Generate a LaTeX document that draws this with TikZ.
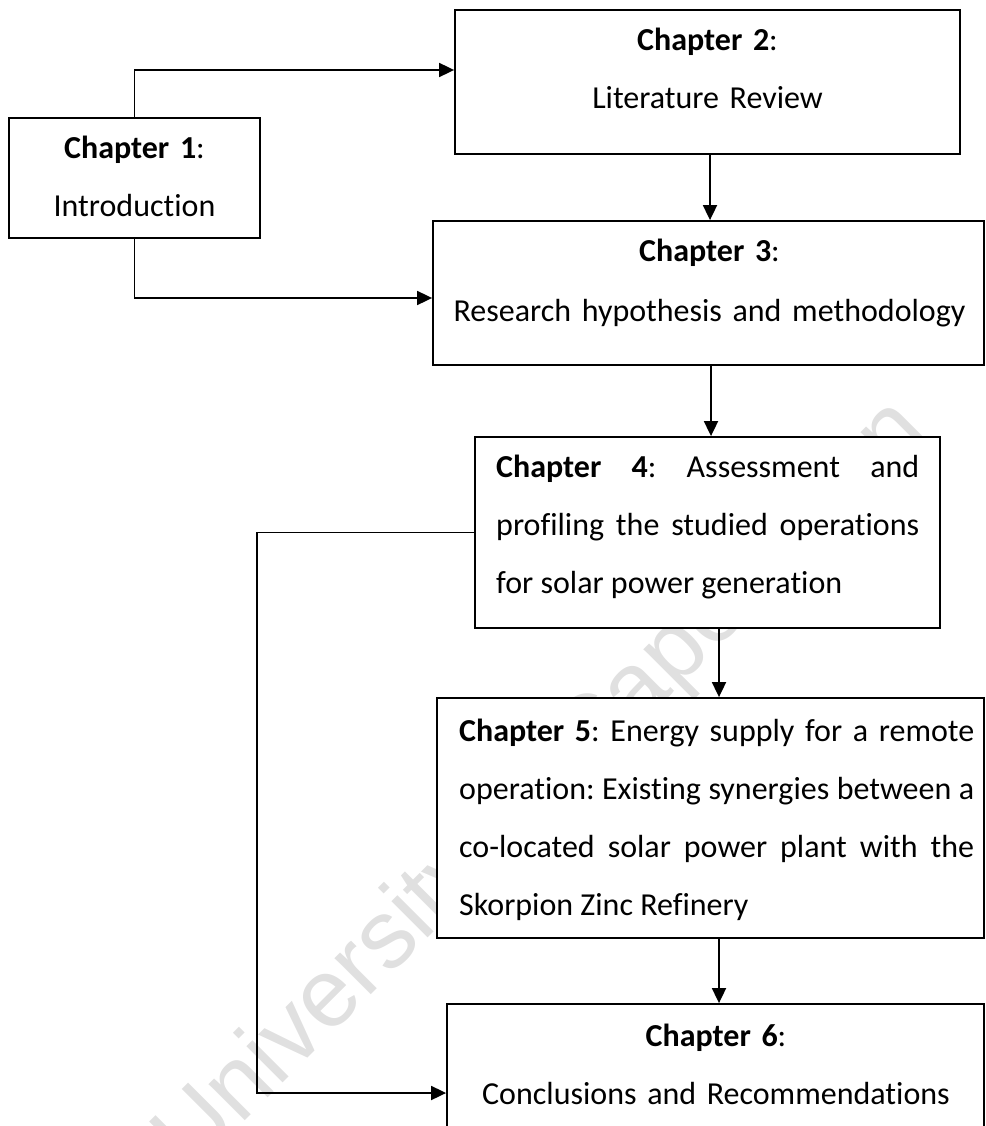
\documentclass[tikz,border=0pt]{standalone}
\usepackage{fontspec}
\setmainfont{Carlito}[Ligatures=NoCommon]
\newfontfamily\wmfont{Liberation Sans}
\usetikzlibrary{arrows.meta}
\frenchspacing

\tikzset{
  chbox/.style={draw, fill=white, line width=1.8pt, inner sep=0pt},
  chtext/.style={inner sep=0pt, font=\fontsize{32}{58}\selectfont},
  arr/.style={line width=1.8pt, -{Triangle[length=15pt,width=14pt]}},
  wmark/.style={inner sep=0pt, text=black!12,
    font=\wmfont\fontsize{97}{97}\selectfont}
}

\begin{document}
\begin{tikzpicture}[x=1pt,y=-1pt]
\useasboundingbox (0,0) rectangle (985,1126);
\clip (0,0) rectangle (985,1126);

% faint background stamp, covered by the boxes
\node[wmark, rotate=45, anchor=base west] (stamp) at (191,1175) {University of Cape Town};

% chapter boxes
\node[chbox, minimum width=251pt, minimum height=120pt] (b1) at (134.5,178) {};
\node[chbox, minimum width=505pt, minimum height=144pt] (b2) at (707.5,82) {};
\node[chbox, minimum width=551pt, minimum height=144pt] (b3) at (708.5,293) {};
\node[chbox, minimum width=465pt, minimum height=191pt] (b4) at (707.5,532.5) {};
\node[chbox, minimum width=547pt, minimum height=240pt] (b5) at (710.5,818) {};
\node[chbox, minimum width=537pt, minimum height=156pt] (b6) at (715.5,1082) {};

% box texts
\node[chtext, anchor=base, text width=250pt, align=center] (t1) at (134.5,159)
  {\textbf{Chapter 1}:\\Introduction};
\node[chtext, anchor=base, text width=500pt, align=center] (t2) at (707.5,51)
  {\textbf{Chapter 2}:\\Literature Review};
\node[chtext, anchor=base, text width=545pt, align=center] (t3) at (709.5,261)
  {\textbf{Chapter 3}:\\[2pt]Research hypothesis and methodology};
\node[chtext, anchor=base west, text width=423pt, align=justify] (t4) at (496,477)
  {\tolerance=10000\hbadness=10000
   \textbf{Chapter 4}: Assessment and\linebreak
   profiling the studied operations\linebreak
   for solar power generation};
\node[chtext, anchor=base west, text width=515pt, align=justify] (t5) at (459,741)
  {\tolerance=10000\hbadness=10000
   \textbf{Chapter 5}: Energy supply for a remote\linebreak
   operation: Existing synergies between a\linebreak
   co-located solar power plant with the\linebreak
   Skorpion Zinc Refinery};
\node[chtext, anchor=base, text width=530pt, align=center] (t6) at (716,1046)
  {\textbf{Chapter 6}:\\Conclusions and Recommendations};

% connectors
\draw[arr] (b1.north) |- ([yshift=12pt]b2.west);
\draw[arr] (b1.south) |- ([yshift=-5pt]b3.west);
\draw[arr] ([xshift=2.5pt]b2.south) -- ([xshift=2.5pt]b2.south |- b3.north);
\draw[arr] ([xshift=2.5pt]b3.south) -- ([xshift=2.5pt]b3.south |- b4.north);
\draw[arr] ([xshift=11.5pt]b4.south) -- ([xshift=11.5pt]b4.south |- b5.north);
\draw[arr] ([xshift=8.5pt]b5.south) -- ([xshift=8.5pt]b5.south |- b6.north);
\coordinate (loopx) at (257,0);
\draw[arr] (b4.west) -- (b4.west -| loopx) |- ([yshift=-11pt]b6.west);
\end{tikzpicture}
\end{document}
